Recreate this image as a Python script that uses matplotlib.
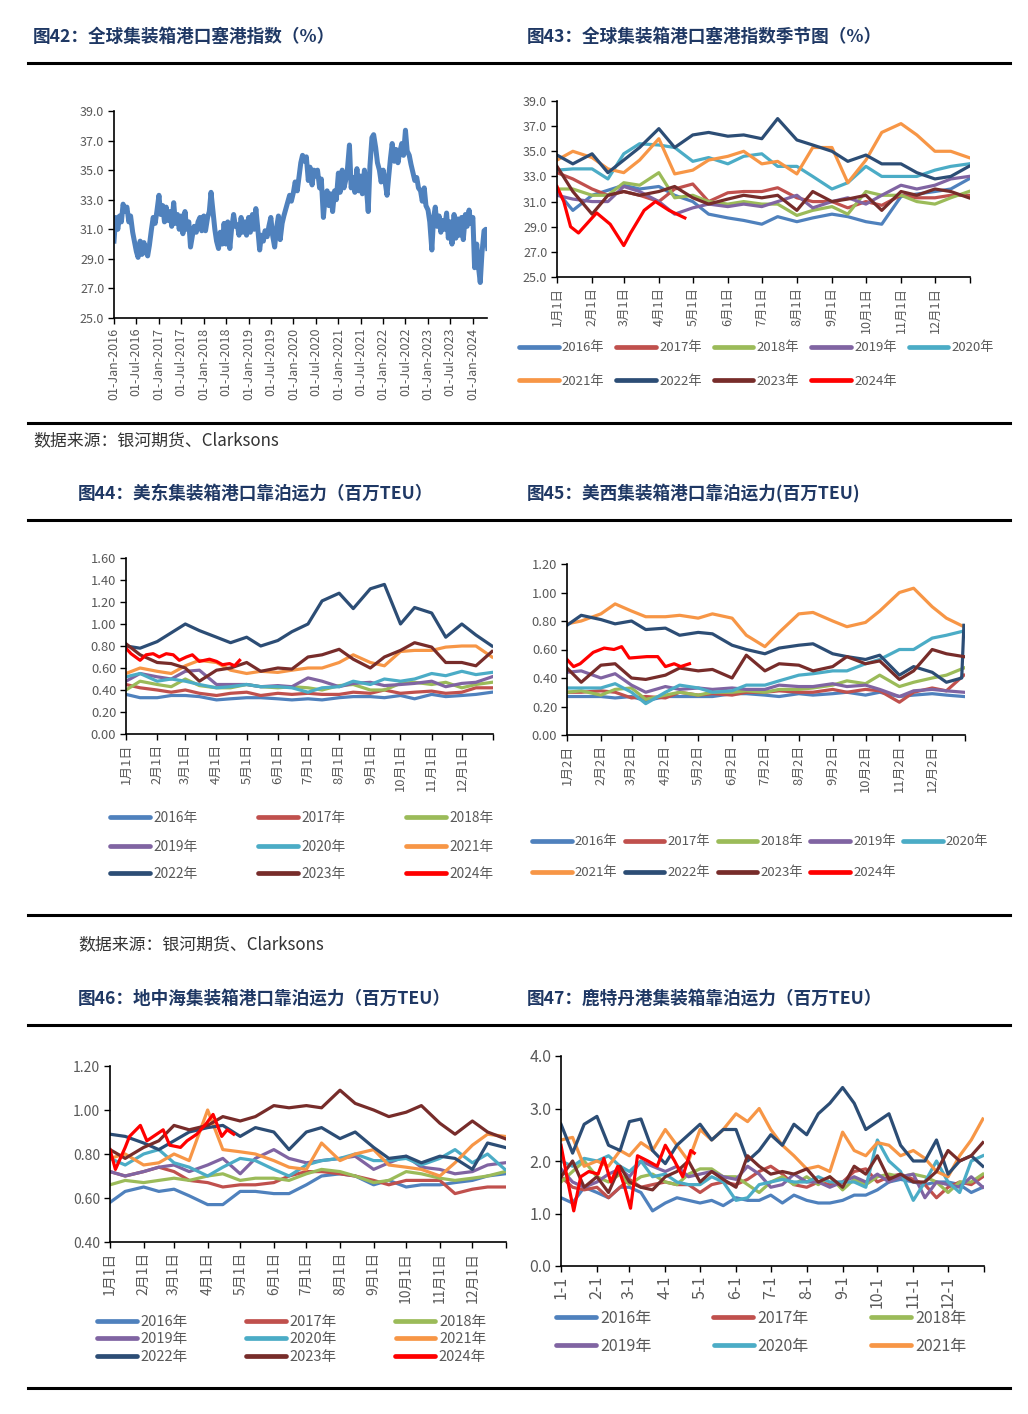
import matplotlib
matplotlib.use('Agg')
import matplotlib.pyplot as plt
import matplotlib.dates as mdates
from matplotlib.lines import Line2D
import numpy as np
import pandas as pd

plt.rcParams['font.family'] = ['Noto Sans CJK SC', 'DejaVu Sans']

# ---------------- data ----------------
YEARS = ['2016', '2017', '2018', '2019', '2020', '2021', '2022', '2023', '2024']
COLORS = {'2016': '#4F81BD', '2017': '#C0504D', '2018': '#9BBB59', '2019': '#8064A2',
          '2020': '#4BACC6', '2021': '#F79646', '2022': '#2C4D75', '2023': '#772C2A',
          '2024': '#FF0000'}

# Fig 42: global congestion index, semi-monthly readings (1st & 15th)
P42_2016 = [30.2, 31.8, 31.0, 31.9, 31.5, 32.7, 32.2, 32.5, 31.5, 31.9, 30.8, 30.2,
            29.5, 29.1, 30.2, 29.3, 30.1, 29.5, 29.2, 29.9, 31.0, 31.8, 31.4, 32.2]
P42_2017 = [33.3, 32.0, 32.6, 31.5, 32.5, 31.6, 32.2, 31.2, 32.8, 31.4, 32.0, 31.0,
            31.9, 30.7, 32.2, 31.0, 31.5, 29.8, 30.6, 31.2, 30.8, 31.5, 31.8, 30.9]
P42_2018 = [31.9, 30.9, 31.8, 32.2, 33.5, 32.4, 31.0, 30.2, 29.7, 30.8, 30.0, 31.4,
            30.0, 31.5, 29.7, 31.0, 32.0, 31.2, 31.3, 30.6, 31.8, 30.8, 31.5, 30.6]
P42_2019 = [31.8, 30.8, 32.0, 31.0, 32.4, 31.2, 29.6, 30.6, 30.2, 30.9, 30.5, 31.2,
            31.8, 30.6, 29.8, 31.0, 31.9, 30.3, 31.4, 31.9, 32.4, 32.8, 33.3, 32.9]
P42_2020 = [33.5, 34.2, 33.6, 34.5, 35.5, 36.0, 35.6, 35.9, 34.3, 35.2, 34.0, 35.0,
            34.6, 35.0, 33.8, 34.4, 31.8, 33.2, 33.6, 32.6, 33.4, 32.2, 33.6, 33.0]
P42_2021 = [34.8, 33.5, 35.0, 33.8, 34.3, 35.0, 36.7, 33.8, 34.5, 33.5, 35.1, 33.6,
            34.6, 33.4, 35.0, 34.0, 32.2, 35.3, 37.2, 37.4, 36.5, 35.5, 35.0, 34.2]
P42_2022 = [35.0, 34.3, 33.3, 34.6, 35.8, 36.8, 35.6, 36.4, 35.5, 36.2, 36.8, 36.0,
            37.7, 36.3, 36.0, 35.4, 34.8, 34.3, 34.5, 33.8, 33.6, 32.9, 33.8, 32.6]
P42_2023 = [32.3, 31.5, 29.6, 31.8, 32.5, 31.2, 31.9, 30.8, 31.6, 31.0, 32.1, 30.4,
            31.5, 30.0, 32.0, 30.4, 31.7, 30.6, 31.8, 30.3, 32.0, 31.2, 32.3, 31.4]
P42_2024 = [31.8, 28.4, 30.0, 28.5, 27.4, 29.4, 30.9, 31.0, 29.7]

# seasonal grids (month/day)
GRID_SM = ['1/1', '1/15', '2/1', '2/15', '3/1', '3/15', '4/1', '4/15', '5/1', '5/15',
           '6/1', '6/15', '7/1', '7/15', '8/1', '8/15', '9/1', '9/15', '10/1', '10/15',
           '11/1', '11/15', '12/1', '12/15', '12/31']
GRID_SM2 = ['1/2', '1/15', '2/2', '2/15', '3/2', '3/15', '4/2', '4/15', '5/2', '5/15',
            '6/2', '6/15', '7/2', '7/15', '8/2', '8/15', '9/2', '9/15', '10/2', '10/15',
            '11/2', '11/15', '12/2', '12/15', '12/31']
GRID_10 = ['1/1', '1/11', '1/21', '2/1', '2/11', '2/21', '3/1', '3/11', '3/21', '4/1',
           '4/11', '4/21', '5/1', '5/11', '5/21', '6/1', '6/11', '6/21', '7/1', '7/11',
           '7/21', '8/1', '8/11', '8/21', '9/1', '9/11', '9/21', '10/1', '10/11', '10/21',
           '11/1', '11/11', '11/21', '12/1', '12/11', '12/21', '12/31']

# Fig 43: congestion index seasonal (%)
P43_2016 = [31.8, 30.3, 31.5, 31.9, 32.3, 32.0, 32.2, 31.5, 31.0, 30.0, 29.7, 29.5, 29.2,
            29.8, 29.4, 29.7, 30.0, 29.8, 29.4, 29.2, 31.4, 31.6, 31.8, 32.0, 32.8]
P43_2017 = [33.3, 32.8, 32.0, 31.5, 31.8, 31.5, 31.0, 32.0, 32.4, 31.0, 31.7, 31.8, 31.8,
            32.1, 31.3, 31.0, 31.0, 30.5, 31.0, 30.7, 31.5, 31.3, 31.3, 31.5, 31.5]
P43_2018 = [32.0, 32.0, 31.5, 31.5, 32.5, 32.3, 33.3, 31.3, 31.5, 31.0, 30.8, 31.0, 30.8,
            30.8, 29.9, 30.3, 30.6, 30.0, 31.8, 31.5, 31.5, 31.0, 30.8, 31.3, 31.8]
P43_2019 = [31.5, 31.2, 31.0, 31.0, 32.2, 31.8, 31.0, 30.0, 30.5, 30.8, 30.6, 30.8, 30.6,
            31.0, 31.5, 30.5, 31.0, 31.3, 30.8, 31.5, 32.3, 32.0, 32.3, 32.8, 33.0]
P43_2020 = [33.5, 33.6, 33.6, 32.8, 34.8, 35.6, 35.5, 35.3, 34.2, 34.5, 34.0, 34.6, 34.8,
            33.8, 33.8, 33.0, 32.0, 32.5, 33.8, 33.0, 33.0, 33.0, 33.5, 33.8, 34.0]
P43_2021 = [34.3, 35.0, 34.5, 33.6, 33.3, 34.3, 36.0, 33.2, 33.5, 34.3, 34.6, 35.0, 34.0,
            34.2, 33.2, 35.3, 35.3, 32.5, 34.3, 36.5, 37.2, 36.3, 35.0, 35.0, 34.5]
P43_2022 = [34.7, 34.0, 34.8, 33.3, 34.3, 35.3, 36.8, 35.3, 36.3, 36.5, 36.2, 36.3, 36.0,
            37.6, 35.9, 35.5, 35.0, 34.2, 34.7, 34.0, 34.0, 33.3, 32.8, 33.0, 33.8]
P43_2023 = [33.8, 31.8, 30.0, 31.5, 31.8, 31.5, 31.8, 32.2, 31.3, 30.8, 31.2, 31.5, 31.3,
            31.5, 30.3, 31.8, 31.0, 31.2, 31.5, 30.3, 31.8, 31.5, 32.0, 31.8, 31.3]
P43_2024_DATES = ['1/1', '1/7', '1/13', '1/20', '1/30', '2/5', '2/17', '3/1', '3/7',
                  '3/19', '3/29', '4/10', '4/24']
P43_2024 = [32.2, 31.0, 29.0, 28.5, 29.5, 30.1, 29.2, 27.5, 28.5, 30.3, 31.0, 30.3, 29.7]

# Fig 44: US East berthing capacity (m TEU)
P44_2016 = [0.36, 0.33, 0.33, 0.35, 0.35, 0.34, 0.31, 0.32, 0.33, 0.33, 0.32, 0.31, 0.32,
            0.31, 0.33, 0.34, 0.34, 0.33, 0.35, 0.32, 0.36, 0.34, 0.35, 0.36, 0.38]
P44_2017 = [0.45, 0.42, 0.40, 0.38, 0.40, 0.37, 0.35, 0.37, 0.38, 0.35, 0.37, 0.36, 0.37,
            0.36, 0.36, 0.38, 0.37, 0.40, 0.37, 0.38, 0.39, 0.37, 0.38, 0.42, 0.42]
P44_2018 = [0.40, 0.48, 0.45, 0.43, 0.50, 0.44, 0.42, 0.42, 0.45, 0.43, 0.42, 0.43, 0.42,
            0.40, 0.44, 0.45, 0.40, 0.40, 0.46, 0.47, 0.45, 0.47, 0.42, 0.45, 0.47]
P44_2019 = [0.48, 0.55, 0.52, 0.50, 0.57, 0.58, 0.45, 0.45, 0.45, 0.43, 0.44, 0.43, 0.51,
            0.48, 0.43, 0.46, 0.47, 0.44, 0.45, 0.46, 0.48, 0.43, 0.46, 0.47, 0.52]
P44_2020 = [0.52, 0.55, 0.48, 0.50, 0.48, 0.45, 0.42, 0.43, 0.45, 0.43, 0.43, 0.42, 0.38,
            0.42, 0.43, 0.48, 0.45, 0.50, 0.48, 0.50, 0.55, 0.53, 0.57, 0.54, 0.56]
P44_2021 = [0.55, 0.60, 0.57, 0.55, 0.62, 0.67, 0.65, 0.58, 0.55, 0.57, 0.56, 0.58, 0.60,
            0.60, 0.65, 0.72, 0.65, 0.62, 0.75, 0.76, 0.76, 0.79, 0.80, 0.80, 0.70]
P44_2022 = [0.80, 0.78, 0.84, 0.92, 1.00, 0.94, 0.88, 0.83, 0.88, 0.80, 0.85, 0.93, 1.00,
            1.21, 1.28, 1.14, 1.32, 1.36, 1.00, 1.15, 1.10, 0.88, 1.00, 0.90, 0.80]
P44_2023 = [0.82, 0.72, 0.65, 0.64, 0.60, 0.48, 0.58, 0.60, 0.65, 0.57, 0.60, 0.59, 0.70,
            0.72, 0.77, 0.68, 0.60, 0.70, 0.76, 0.83, 0.79, 0.65, 0.65, 0.62, 0.75]
P44_2024_DATES = ['1/1', '1/6', '1/15', '1/21', '1/28', '2/3', '2/10', '2/17', '2/23',
                  '3/2', '3/8', '3/15', '3/25', '4/1', '4/7', '4/14', '4/19', '4/24']
P44_2024 = [0.78, 0.73, 0.67, 0.72, 0.73, 0.70, 0.73, 0.72, 0.67, 0.70, 0.72, 0.66, 0.68,
            0.66, 0.63, 0.64, 0.62, 0.67]

# Fig 45: US West berthing capacity (m TEU)
P45_2016 = [0.27, 0.27, 0.27, 0.26, 0.27, 0.24, 0.27, 0.27, 0.27, 0.27, 0.29, 0.29, 0.28,
            0.27, 0.29, 0.28, 0.29, 0.30, 0.28, 0.30, 0.27, 0.28, 0.29, 0.28, 0.27]
P45_2017 = [0.30, 0.30, 0.31, 0.30, 0.26, 0.27, 0.26, 0.30, 0.28, 0.29, 0.28, 0.30, 0.30,
            0.31, 0.30, 0.30, 0.32, 0.30, 0.32, 0.31, 0.23, 0.30, 0.33, 0.31, 0.42]
P45_2018 = [0.30, 0.31, 0.28, 0.32, 0.33, 0.25, 0.28, 0.30, 0.28, 0.30, 0.30, 0.31, 0.30,
            0.32, 0.32, 0.33, 0.35, 0.38, 0.36, 0.42, 0.34, 0.37, 0.40, 0.42, 0.47]
P45_2019 = [0.44, 0.45, 0.40, 0.43, 0.35, 0.30, 0.34, 0.32, 0.33, 0.32, 0.33, 0.32, 0.32,
            0.35, 0.34, 0.34, 0.36, 0.34, 0.35, 0.32, 0.27, 0.31, 0.32, 0.31, 0.30]
P45_2020 = [0.33, 0.33, 0.33, 0.36, 0.30, 0.22, 0.30, 0.35, 0.33, 0.30, 0.31, 0.35, 0.35,
            0.38, 0.42, 0.43, 0.45, 0.45, 0.50, 0.53, 0.60, 0.60, 0.68, 0.70, 0.73]
P45_2021 = [0.78, 0.80, 0.85, 0.92, 0.87, 0.83, 0.83, 0.84, 0.82, 0.85, 0.82, 0.70, 0.62,
            0.72, 0.85, 0.86, 0.80, 0.76, 0.79, 0.87, 1.00, 1.03, 0.90, 0.82, 0.76]
P45_2022_DATES = GRID_SM2[:-1] + ['12/29', '12/31']
P45_2022 = [0.77, 0.84, 0.81, 0.78, 0.80, 0.74, 0.75, 0.70, 0.72, 0.71, 0.63, 0.60, 0.57,
            0.61, 0.63, 0.64, 0.57, 0.55, 0.53, 0.56, 0.42, 0.48, 0.44, 0.37, 0.40, 0.77]
P45_2023 = [0.47, 0.37, 0.49, 0.50, 0.40, 0.39, 0.42, 0.47, 0.45, 0.46, 0.40, 0.56, 0.45,
            0.50, 0.49, 0.45, 0.48, 0.55, 0.50, 0.52, 0.39, 0.45, 0.60, 0.57, 0.55]
P45_2024_DATES = ['1/2', '1/8', '1/14', '1/26', '2/5', '2/14', '2/21', '2/28', '3/16',
                  '3/26', '4/2', '4/10', '4/16', '4/24']
P45_2024 = [0.53, 0.48, 0.50, 0.58, 0.61, 0.60, 0.62, 0.54, 0.55, 0.55, 0.48, 0.50, 0.48,
            0.50]

# Fig 46: Mediterranean berthing capacity (m TEU)
P46_2016 = [0.58, 0.63, 0.65, 0.63, 0.64, 0.61, 0.57, 0.57, 0.63, 0.63, 0.62, 0.62, 0.66,
            0.70, 0.71, 0.70, 0.66, 0.68, 0.65, 0.66, 0.66, 0.67, 0.68, 0.70, 0.71]
P46_2017 = [0.72, 0.70, 0.72, 0.74, 0.72, 0.68, 0.67, 0.65, 0.66, 0.66, 0.67, 0.70, 0.72,
            0.72, 0.71, 0.70, 0.68, 0.66, 0.68, 0.68, 0.68, 0.62, 0.64, 0.65, 0.65]
P46_2018 = [0.66, 0.68, 0.67, 0.68, 0.69, 0.68, 0.70, 0.71, 0.68, 0.69, 0.69, 0.68, 0.71,
            0.73, 0.72, 0.70, 0.67, 0.68, 0.72, 0.71, 0.69, 0.68, 0.69, 0.70, 0.72]
P46_2019 = [0.72, 0.70, 0.72, 0.74, 0.75, 0.72, 0.75, 0.78, 0.71, 0.78, 0.82, 0.78, 0.76,
            0.77, 0.78, 0.79, 0.73, 0.76, 0.79, 0.74, 0.73, 0.71, 0.72, 0.75, 0.76]
P46_2020 = [0.78, 0.75, 0.80, 0.82, 0.76, 0.74, 0.70, 0.74, 0.78, 0.77, 0.73, 0.70, 0.75,
            0.77, 0.78, 0.80, 0.77, 0.77, 0.78, 0.75, 0.78, 0.82, 0.76, 0.80, 0.73]
P46_2021 = [0.78, 0.80, 0.75, 0.76, 0.80, 0.77, 1.00, 0.82, 0.81, 0.80, 0.77, 0.74, 0.73,
            0.85, 0.77, 0.80, 0.82, 0.75, 0.74, 0.73, 0.70, 0.76, 0.84, 0.89, 0.88]
P46_2022 = [0.89, 0.88, 0.85, 0.82, 0.86, 0.90, 0.92, 0.93, 0.88, 0.92, 0.90, 0.82, 0.90,
            0.92, 0.87, 0.90, 0.83, 0.78, 0.79, 0.76, 0.79, 0.78, 0.73, 0.85, 0.83]
P46_2023 = [0.82, 0.78, 0.83, 0.86, 0.93, 0.91, 0.93, 0.97, 0.95, 0.97, 1.02, 1.01, 1.02,
            1.01, 1.09, 1.03, 1.00, 0.97, 0.99, 1.02, 0.94, 0.89, 0.95, 0.90, 0.87]
P46_2024_DATES = ['1/1', '1/6', '1/15', '1/19', '1/29', '2/4', '2/13', '2/19', '2/25',
                  '3/7', '3/13', '3/22', '3/31', '4/6', '4/14', '4/19', '4/25']
P46_2024 = [0.82, 0.73, 0.83, 0.88, 0.93, 0.86, 0.89, 0.91, 0.84, 0.83, 0.86, 0.89, 0.94,
            0.98, 0.88, 0.91, 0.89]

# Fig 47: Rotterdam berthing capacity (m TEU), 10-day readings
P47_2016 = [1.3, 1.2, 1.5, 1.4, 1.3, 1.5, 1.5, 1.4, 1.05, 1.2, 1.3, 1.25, 1.2, 1.25, 1.15,
            1.3, 1.25, 1.25, 1.35, 1.2, 1.35, 1.25, 1.2, 1.2, 1.25, 1.35, 1.35, 1.45, 1.6,
            1.65, 1.6, 1.55, 1.6, 1.6, 1.55, 1.4, 1.5]
P47_2017 = [1.7, 1.5, 1.45, 1.5, 1.3, 1.5, 1.65, 1.5, 1.55, 1.6, 1.55, 1.55, 1.4, 1.55, 1.6,
            1.55, 1.65, 1.8, 1.9, 1.75, 1.55, 1.5, 1.6, 1.55, 1.6, 1.8, 1.85, 1.6, 1.7, 1.75,
            1.65, 1.55, 1.3, 1.5, 1.6, 1.55, 1.7]
P47_2018 = [1.6, 1.8, 2.0, 1.7, 1.6, 1.75, 1.55, 1.7, 1.75, 1.6, 1.55, 1.75, 1.85, 1.85,
            1.7, 1.7, 1.55, 1.4, 1.6, 1.7, 1.55, 1.7, 1.55, 1.7, 1.45, 1.65, 1.55, 1.7, 1.75,
            1.7, 1.75, 1.7, 1.6, 1.4, 1.6, 1.6, 1.75]
P47_2019 = [1.85, 1.6, 1.5, 1.6, 1.75, 1.85, 1.7, 2.0, 1.9, 1.8, 1.9, 1.7, 1.75, 1.8, 1.7,
            1.65, 1.9, 1.75, 1.5, 1.55, 1.75, 1.6, 1.6, 1.5, 1.6, 1.7, 1.6, 1.75, 1.6, 1.7,
            1.75, 1.3, 1.6, 1.55, 1.5, 1.7, 1.5]
P47_2020 = [2.0, 1.9, 2.05, 2.0, 2.1, 1.9, 1.8, 2.0, 1.7, 1.75, 1.6, 1.55, 1.55, 1.7, 1.6,
            1.25, 1.3, 1.55, 1.6, 1.65, 1.6, 1.6, 1.7, 1.6, 1.6, 1.6, 1.5, 2.4, 2.0, 1.8,
            1.25, 1.6, 2.0, 1.6, 1.4, 2.0, 2.1]
P47_2021 = [2.4, 2.45, 1.9, 2.0, 1.9, 2.2, 2.1, 2.35, 2.2, 2.6, 2.3, 2.0, 2.6, 2.4, 2.6,
            2.9, 2.75, 3.0, 2.6, 2.3, 2.1, 1.85, 1.9, 1.8, 2.55, 2.2, 2.1, 2.35, 2.3, 2.1,
            2.2, 2.05, 1.8, 1.7, 2.1, 2.4, 2.8]
P47_2022 = [2.7, 2.15, 2.7, 2.85, 2.3, 2.2, 2.75, 2.8, 2.2, 1.95, 2.3, 2.5, 2.7, 2.4, 2.6,
            2.6, 2.0, 2.2, 2.5, 2.3, 2.7, 2.5, 2.9, 3.1, 3.4, 3.1, 2.6, 2.75, 2.9, 2.3, 2.0,
            2.0, 2.4, 1.75, 2.0, 2.1, 1.9]
P47_2023 = [1.7, 2.0, 1.5, 1.7, 1.4, 1.9, 1.6, 1.5, 1.45, 1.7, 1.8, 2.0, 1.6, 1.8, 1.65,
            1.5, 2.1, 1.9, 1.75, 1.8, 1.75, 1.85, 1.6, 1.7, 1.5, 1.9, 1.75, 2.1, 1.65, 1.75,
            1.6, 1.6, 1.8, 2.2, 2.0, 2.1, 2.35]
P47_2024_DATES = ['1/1', '1/7', '1/12', '1/18', '1/25', '2/2', '2/7', '2/13', '2/19', '2/25',
                  '3/2', '3/8', '3/17', '3/25', '4/1', '4/9', '4/16', '4/23', '4/26']
P47_2024 = [2.3, 1.6, 1.05, 1.7, 1.8, 1.75, 2.05, 1.6, 1.9, 1.5, 1.1, 2.1, 2.0, 1.9, 2.3,
            2.0, 1.7, 2.2, 2.15]

TICK_DATES_1 = ['1/1', '2/1', '3/1', '4/1', '5/1', '6/1', '7/1', '8/1', '9/1', '10/1',
                '11/1', '12/1']
TICK_DATES_2 = ['1/2', '2/2', '3/2', '4/2', '5/2', '6/2', '7/2', '8/2', '9/2', '10/2',
                '11/2', '12/2']
LABELS_A = [f'{m}月1日' for m in range(1, 13)]
LABELS_B = [f'{m}月2日' for m in range(1, 13)]
LABELS_C = [f'{m}-1' for m in range(1, 13)]

TITLES = [
    (33, 37, '图42：全球集装箱港口塞港指数（%）'),
    (527, 37, '图43：全球集装箱港口塞港指数季节图（%）'),
    (78, 494, '图44：美东集装箱港口靠泊运力（百万TEU）'),
    (527, 494, '图45：美西集装箱港口靠泊运力(百万TEU)'),
    (78, 999, '图46：地中海集装箱港口靠泊运力（百万TEU）'),
    (527, 999, '图47：鹿特丹港集装箱靠泊运力（百万TEU）'),
]
SOURCE = '数据来源：银河期货、Clarksons'

# ---------------- figure ----------------
W, H = 1028, 1414
fig = plt.figure(figsize=(W / 100, H / 100), dpi=100)
fig.patch.set_facecolor('white')


def doy(lst):
    out = []
    for s in lst:
        m, d = s.split('/')
        out.append(pd.Timestamp(year=2023, month=int(m), day=int(d)).dayofyear - 1)
    return np.array(out)


def px_axes(x0, y0, x1, y1):
    return fig.add_axes([x0 / W, 1 - y1 / H, (x1 - x0) / W, (y1 - y0) / H])


def style(ax, fs):
    for s in ['top', 'right']:
        ax.spines[s].set_visible(False)
    for s in ['left', 'bottom']:
        ax.spines[s].set_color('black')
        ax.spines[s].set_linewidth(1.2)
    ax.tick_params(axis='both', which='both', direction='out', length=4, width=1.0,
                   color='black', labelcolor='#595959', labelsize=fs, pad=3)
    ax.set_facecolor('none')


def hline(y, x0=28, x1=1010):
    fig.add_artist(Line2D([x0 / W, x1 / W], [1 - y / H, 1 - y / H], color='black', lw=2.2))


def legend_row(years, x_px, y_px, fs, hl, cs):
    handles = [Line2D([0], [0], color=COLORS[y], lw=3.4, solid_capstyle='round') for y in years]
    labels = [y + '年' for y in years]
    fig.legend(handles, labels, loc='center left', bbox_to_anchor=(x_px / W, 1 - y_px / H),
               ncol=len(handles), frameon=False, fontsize=fs, handlelength=hl,
               handletextpad=0.25, columnspacing=cs, borderpad=0, borderaxespad=0,
               labelcolor='#595959')


def seasonal(ax, grid, data, extra, xlim, tick_dates, tick_labels, ylim, yticks, fmt, fs, lw=2.3):
    xs = doy(grid)
    for y in YEARS:
        if y in extra:
            dts, vals = extra[y]
            ax.plot(doy(dts), vals, color=COLORS[y], lw=lw, solid_joinstyle='round')
        elif y in data:
            ax.plot(xs, data[y], color=COLORS[y], lw=lw, solid_joinstyle='round')
    ax.set_xlim(*xlim)
    ax.set_ylim(*ylim)
    ax.set_yticks(yticks)
    ax.set_yticklabels([fmt.format(v) for v in yticks])
    tpos = list(doy(tick_dates)) + [xlim[1]]
    ax.set_xticks(tpos)
    ax.set_xticklabels(tick_labels + [''], rotation=90)
    style(ax, fs)


# titles and rules
for x, y, t in TITLES:
    fig.text(x / W, 1 - y / H, t, ha='left', va='center', fontsize=12.7, fontweight='bold',
             color='#1F3864')
for y in [63, 423, 520, 915, 1025, 1388]:
    hline(y)
fig.text(33 / W, 1 - 440 / H, SOURCE, ha='left', va='center', fontsize=12.2, color='#333333')
fig.text(78 / W, 1 - 944 / H, SOURCE, ha='left', va='center', fontsize=12.2, color='#333333')

# ---- Fig 42 ----
ax1 = px_axes(114, 111, 487, 318)
p42 = P42_2016 + P42_2017 + P42_2018 + P42_2019 + P42_2020 + P42_2021 + P42_2022 + P42_2023 + P42_2024
d42 = pd.date_range('2016-01-01', periods=len(p42), freq='SMS')
ax1.plot(d42, p42, color='#4F81BD', lw=3.6, solid_joinstyle='round')
ax1.set_ylim(25, 39)
yt = np.arange(25, 39.1, 2)
ax1.set_yticks(yt)
ax1.set_yticklabels([f'{v:.1f}' for v in yt])
ax1.set_xlim(pd.Timestamp('2016-01-01'), pd.Timestamp('2024-04-25'))
ax1.xaxis.set_major_locator(mdates.MonthLocator(bymonth=[1, 7], bymonthday=1))
ax1.xaxis.set_major_formatter(mdates.DateFormatter('%d-%b-%Y'))
plt.setp(ax1.get_xticklabels(), rotation=90)
style(ax1, 9)

# ---- Fig 43 ----
ax2 = px_axes(557, 101, 970, 277)
seasonal(ax2, GRID_SM,
         {'2016': P43_2016, '2017': P43_2017, '2018': P43_2018, '2019': P43_2019,
          '2020': P43_2020, '2021': P43_2021, '2022': P43_2022, '2023': P43_2023},
         {'2024': (P43_2024_DATES, P43_2024)},
         (0, 365), TICK_DATES_1, LABELS_A, (25, 39), np.arange(25, 39.1, 2), '{:.1f}', 9)
legend_row(YEARS[:5], 519, 348, 9.5, 3.0, 0.9)
legend_row(YEARS[5:], 519, 381, 9.5, 3.0, 0.9)

# ---- Fig 44 ----
ax3 = px_axes(126, 558, 493, 734)
seasonal(ax3, GRID_SM,
         {'2016': P44_2016, '2017': P44_2017, '2018': P44_2018, '2019': P44_2019,
          '2020': P44_2020, '2021': P44_2021, '2022': P44_2022, '2023': P44_2023},
         {'2024': (P44_2024_DATES, P44_2024)},
         (0, 365), TICK_DATES_1, LABELS_A, (0, 1.6), np.arange(0, 1.61, 0.2), '{:.2f}', 9.3)
legend_row(YEARS[0:3], 110, 818, 9.9, 2.9, 4.4)
legend_row(YEARS[3:6], 110, 847, 9.9, 2.9, 4.4)
legend_row(YEARS[6:9], 110, 874, 9.9, 2.9, 4.4)

# ---- Fig 45 ----
ax4 = px_axes(567, 564, 965, 735)
seasonal(ax4, GRID_SM2,
         {'2016': P45_2016, '2017': P45_2017, '2018': P45_2018, '2019': P45_2019,
          '2020': P45_2020, '2021': P45_2021, '2023': P45_2023},
         {'2022': (P45_2022_DATES, P45_2022), '2024': (P45_2024_DATES, P45_2024)},
         (1, 365), TICK_DATES_2, LABELS_B, (0, 1.2), np.arange(0, 1.21, 0.2), '{:.2f}', 9.3)
legend_row(YEARS[:5], 532, 842, 9.5, 3.0, 0.55)
legend_row(YEARS[5:], 532, 873, 9.5, 3.0, 0.55)

# ---- Fig 46 ----
ax5 = px_axes(110, 1066, 506, 1242)
seasonal(ax5, GRID_SM,
         {'2016': P46_2016, '2017': P46_2017, '2018': P46_2018, '2019': P46_2019,
          '2020': P46_2020, '2021': P46_2021, '2022': P46_2022, '2023': P46_2023},
         {'2024': (P46_2024_DATES, P46_2024)},
         (0, 365), TICK_DATES_1, LABELS_A, (0.4, 1.2), np.arange(0.4, 1.21, 0.2), '{:.2f}', 10)
legend_row(YEARS[0:3], 97, 1322, 10.5, 2.74, 4.0)
legend_row(YEARS[3:6], 97, 1339, 10.5, 2.74, 4.0)
legend_row(YEARS[6:9], 97, 1357, 10.5, 2.74, 4.0)

# ---- Fig 47 ----
ax6 = px_axes(561, 1056, 984, 1266)
seasonal(ax6, GRID_10,
         {'2016': P47_2016, '2017': P47_2017, '2018': P47_2018, '2019': P47_2019,
          '2020': P47_2020, '2021': P47_2021, '2022': P47_2022, '2023': P47_2023},
         {'2024': (P47_2024_DATES, P47_2024)},
         (0, 365), TICK_DATES_1, LABELS_C, (0, 4.0), np.arange(0, 4.01, 1.0), '{:.1f}', 11.5)
legend_row(YEARS[0:3], 556, 1318, 11.5, 2.5, 3.9)
legend_row(YEARS[3:6], 556, 1346, 11.5, 2.5, 3.9)

fig.savefig('out.png', dpi=100, facecolor='white')
